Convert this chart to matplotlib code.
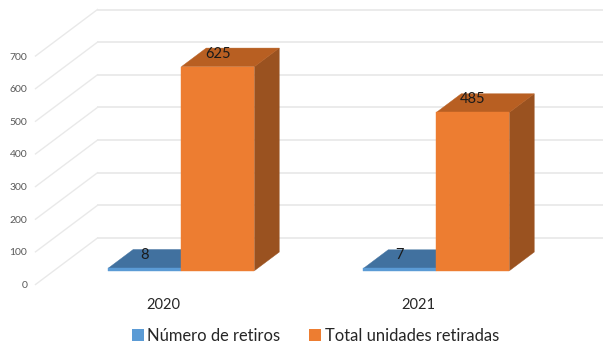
import matplotlib
matplotlib.use("Agg")
import matplotlib.pyplot as plt
from matplotlib.patches import Patch
from matplotlib.transforms import Affine2D

categories = ["2020", "2021"]
retiros = [8, 7]
unidades = [625, 485]
series_names = ["Número de retiros", "Total unidades retiradas"]
y_ticks = [0, 100, 200, 300, 400, 500, 600, 700]

W, H = 603, 354
plt.rcParams["font.family"] = ["Lato", "DejaVu Sans"]
fig = plt.figure(figsize=(W / 100, H / 100), dpi=100, facecolor="white")
ax = fig.add_axes([35.5 / W, (H - 284.5) / H, 510 / W, 228.5 / H])
ax.set_xlim(-0.5, 1.5)
ax.set_ylim(0, 700)
for s in ax.spines.values():
    s.set_visible(False)
ax.patch.set_visible(False)

DX, DY = 62, 46.5      # depth of the floor in pixels


def depth(d):
    return ax.transData + Affine2D().translate(DX * d, DY * d)


fig.canvas.draw()

# gridlines on the side wall / back wall
for v in y_ticks:
    p0 = ax.transData.transform((-0.5, v))
    disp = [(p0[0], p0[1]), (p0[0] + DX, p0[1] + DY)]
    ax.plot(*zip(*disp), transform=None, color="#e9e9e9", lw=1.0, clip_on=False, zorder=1)
    ax.plot([-0.5, 1.5], [v, v], transform=depth(1), color="#e9e9e9", lw=1.3,
            clip_on=False, zorder=1)

ax.set_yticks(y_ticks)
ax.set_yticklabels([str(v) for v in y_ticks], color="#595959", fontsize=7.5)
ax.set_xticks([0, 1])
ax.set_xticklabels(categories, color="#262626", fontsize=10.5)
ax.tick_params(axis="both", length=0)
ax.tick_params(axis="y", pad=6)
ax.tick_params(axis="x", pad=10)

BAR_W = 73 / 255
D0, D1 = 0.297, 0.697


def bar3d(x0, x1, v, front, top, side, z):
    t0, t1 = depth(D0), depth(D1)
    def pts(tr, *xy):
        return [tr.transform(p) for p in xy]
    f = pts(t0, (x0, 0), (x1, 0), (x1, v), (x0, v))
    tp = pts(t0, (x0, v), (x1, v)) + pts(t1, (x1, v), (x0, v))
    sd = pts(t0, (x1, 0), (x1, v)) + pts(t1, (x1, v), (x1, 0))
    for poly, col in ((sd, side), (tp, top), (f, front)):
        ax.fill(*zip(*poly), transform=None, facecolor=col, edgecolor=col, lw=0.3,
                clip_on=False, zorder=z)


for i in range(len(categories)):
    bar3d(i - BAR_W, i, retiros[i], "#5B9BD5", "#41719F", "#2F5F8A", 3)
    bar3d(i, i + BAR_W, unidades[i], "#ED7D31", "#B85F22", "#9A5220", 4)
    for x, v in ((i - BAR_W / 2, retiros[i]), (i + BAR_W / 2, unidades[i])):
        ax.annotate(str(v), xy=(x, v), xycoords=depth(D0), xytext=(0, 9.3), textcoords="offset points",
                    ha="center", va="center", fontsize=10.5, color="#1a1a1a", zorder=6,
                    annotation_clip=False)

handles = [Patch(facecolor="#5B9BD5", label=series_names[0]),
           Patch(facecolor="#ED7D31", label=series_names[1])]
fig.legend(handles=handles, loc="center", bbox_to_anchor=(315.5 / W, (H - 336) / H), ncol=2,
           frameon=False, fontsize=11.9, handlelength=0.72, handleheight=0.72,
           handletextpad=0.2, columnspacing=1.75, labelcolor="#262626")

fig.savefig("out.png", dpi=100)
